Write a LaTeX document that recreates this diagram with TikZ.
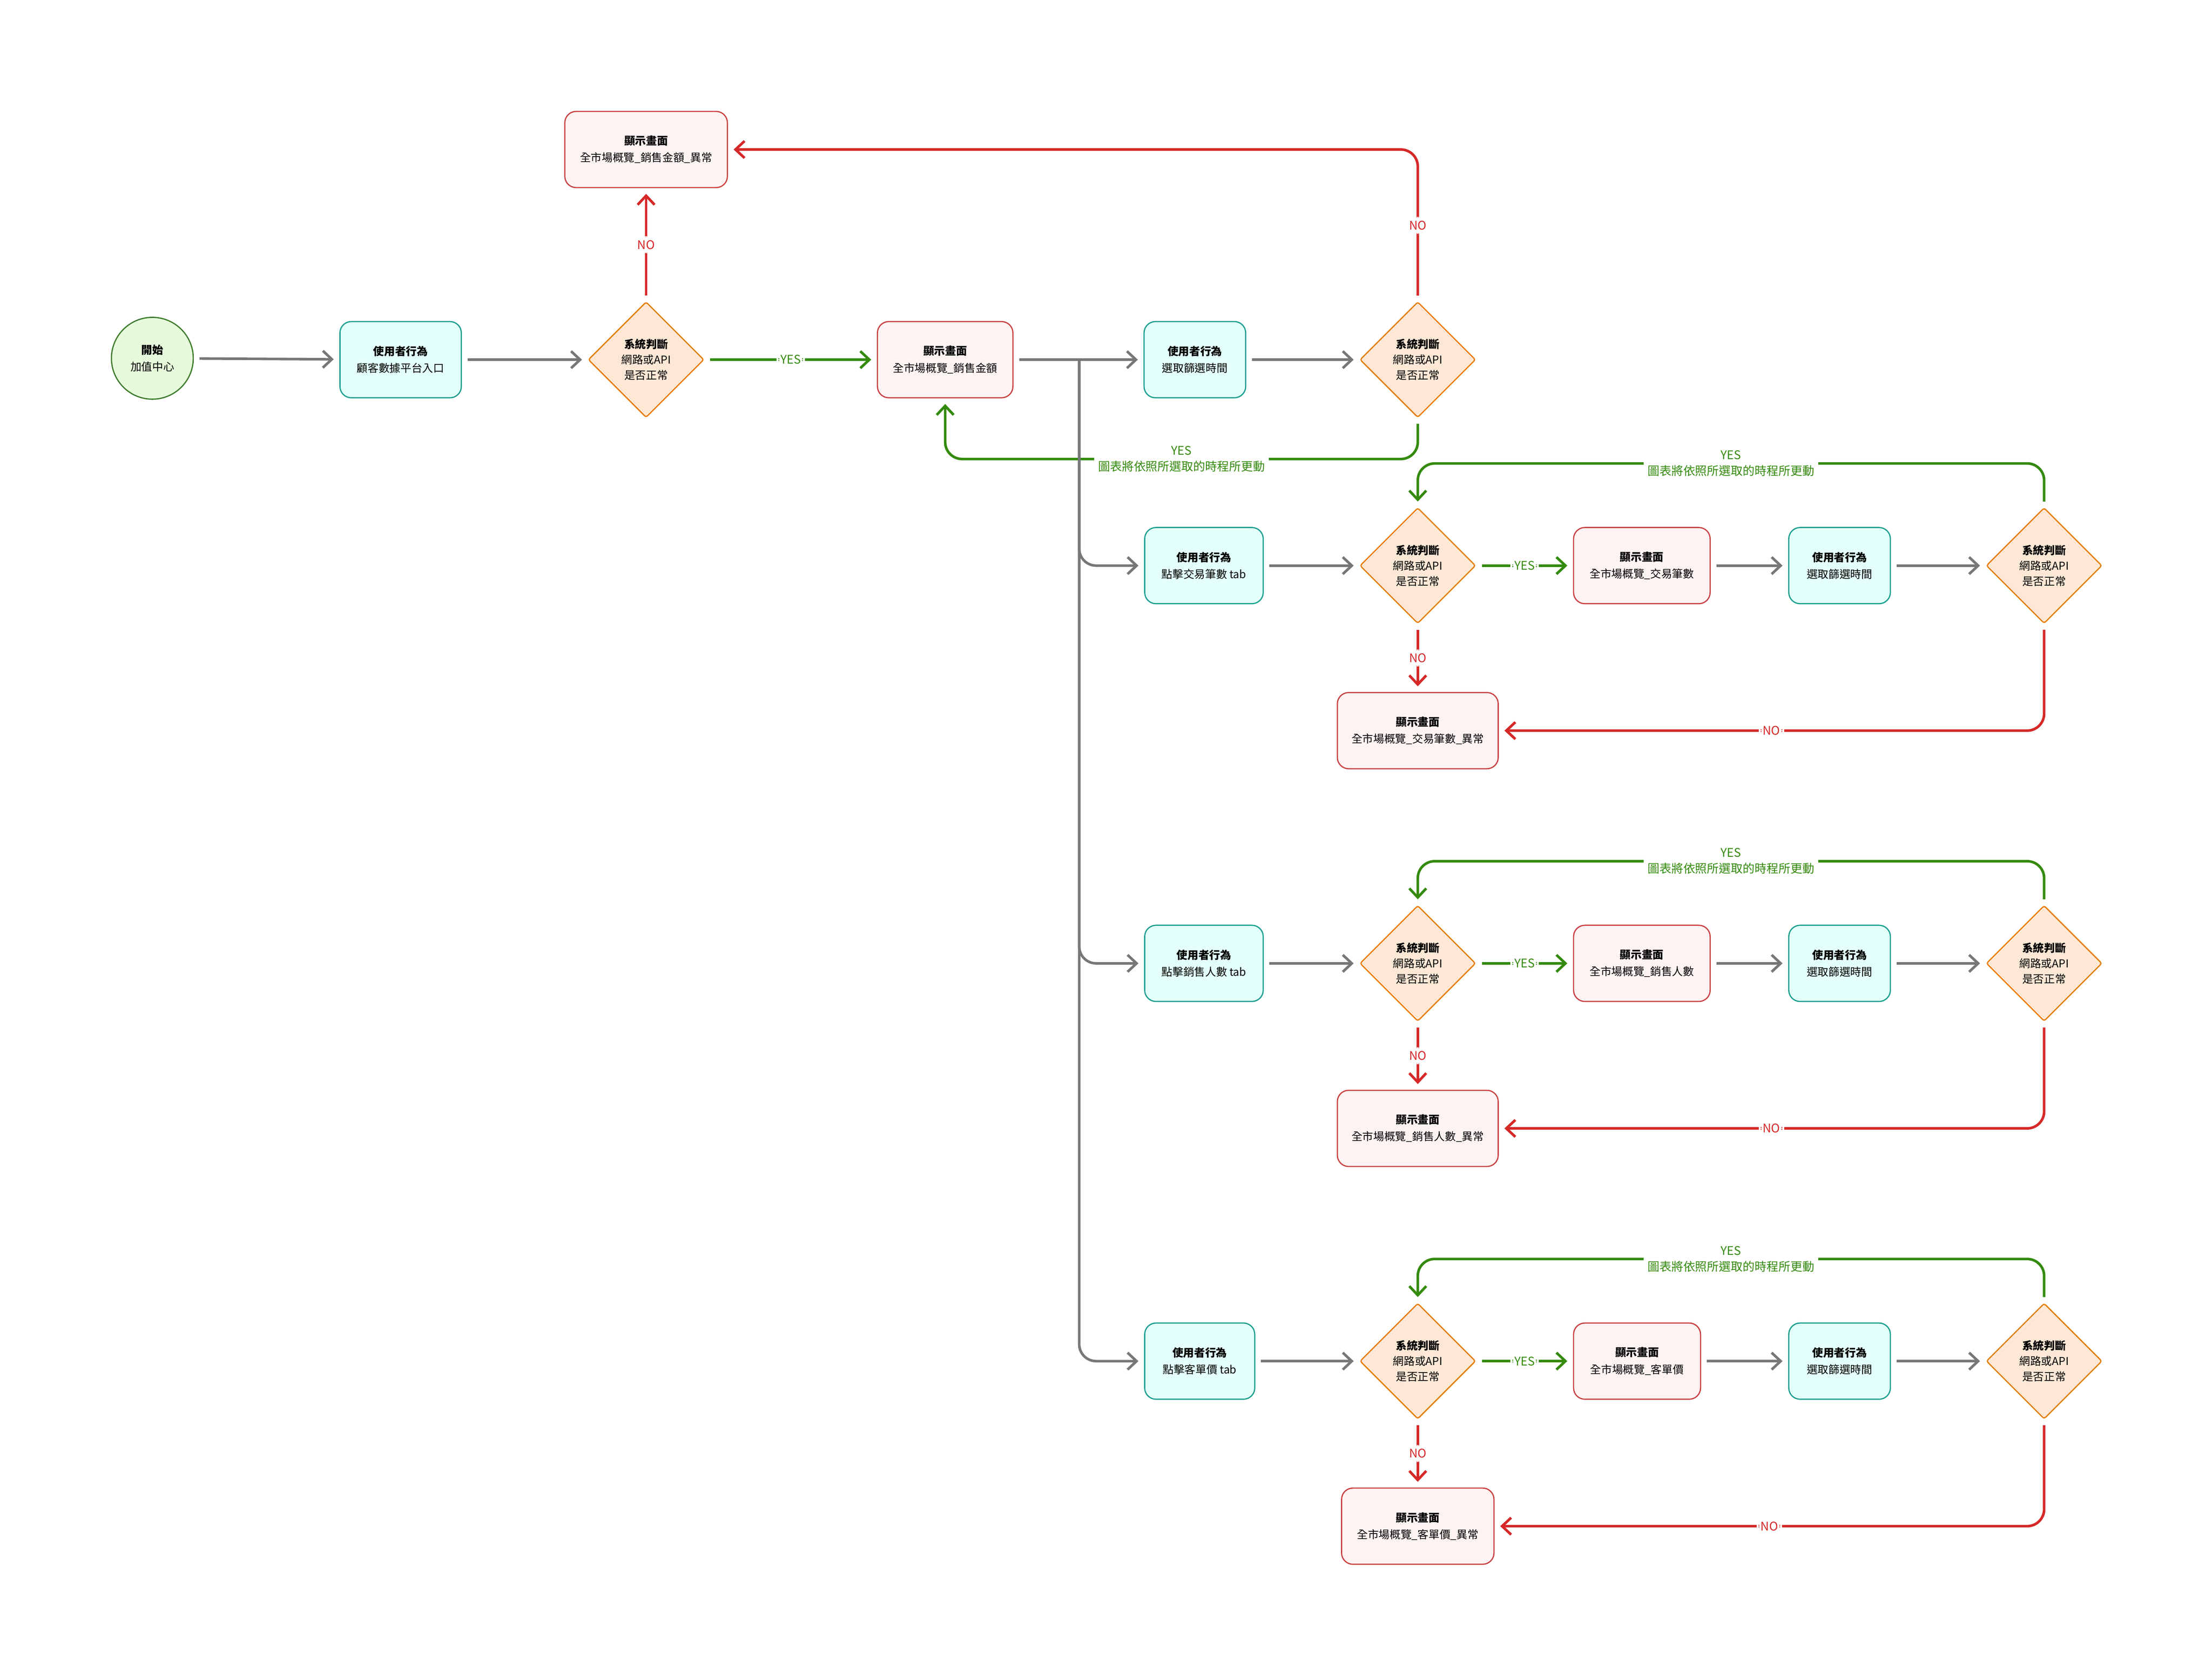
\documentclass[tikz,border=0pt]{standalone}
\usepackage{fontspec}
\setmainfont{Noto Sans CJK TC}
\usetikzlibrary{shapes.geometric,arrows.meta}
\definecolor{grayline}{HTML}{777777}
\definecolor{yesgreen}{HTML}{348A0E}
\definecolor{nored}{HTML}{D62828}
\definecolor{userdraw}{HTML}{1A9E8F}
\definecolor{userfill}{HTML}{E3FFFA}
\definecolor{showdraw}{HTML}{C94040}
\definecolor{showfill}{HTML}{FDF3F2}
\definecolor{decdraw}{HTML}{E87A00}
\definecolor{decfill}{HTML}{FDE8D6}
\definecolor{startdraw}{HTML}{3B7A2A}
\definecolor{startfill}{HTML}{E6FADB}
\tikzset{
  box/.style={rounded corners=0.2cm,line width=0.6pt,minimum height=1.35cm,
    align=center,font=\fontsize{5.5}{8.5}\selectfont},
  user/.style={box,draw=userdraw,fill=userfill},
  show/.style={box,draw=showdraw,fill=showfill},
  dec/.style={shape=diamond,draw=decdraw,fill=decfill,line width=0.6pt,
    minimum width=2.05cm,minimum height=2.05cm,inner sep=0pt,align=center,
    rounded corners=1pt,font=\fontsize{5.5}{7.8}\selectfont},
  flow/.style={-{Straight Barb[length=0.16cm,width=0.3cm]},line width=1.3pt,
    rounded corners=0.3cm,shorten >=0.1cm,shorten <=0.1cm},
  gray/.style={flow,grayline},
  yes/.style={flow,yesgreen},
  no/.style={flow,nored},
  lab/.style={fill=white,inner sep=2pt,align=center,font=\fontsize{6}{8}\selectfont}
}
\begin{document}
\begin{tikzpicture}[x=0.025cm,y=-0.025cm]
  \useasboundingbox (0,0) rectangle (1568,1188);

  \node[circle,draw=startdraw,fill=startfill,line width=0.6pt,minimum size=1.45cm,
        align=center,font=\fontsize{5.5}{8.5}\selectfont] (start) at (108,254)
        {\textbf{開始}\\加值中心};
  \node[user,minimum width=2.15cm] (u1) at (284,255) {\textbf{使用者行為}\\顧客數據平台入口};
  \node[dec] (d1) at (458,255) {\textbf{系統判斷}\\網路或API\\是否正常};
  \node[show,minimum width=2.88cm] (e1) at (458,106) {\textbf{顯示畫面}\\全市場概覽\_銷售金額\_異常};
  \node[show,minimum width=2.4cm] (s1) at (670,255) {\textbf{顯示畫面}\\全市場概覽\_銷售金額};
  \node[user,minimum width=1.8cm] (u2) at (847,255) {\textbf{使用者行為}\\選取篩選時間};
  \node[dec] (d2) at (1005,255) {\textbf{系統判斷}\\網路或API\\是否正常};
  \coordinate (bus) at (765,255);

  \draw[gray] (start) -- (u1);
  \draw[gray] (u1) -- (d1);
  \draw[yes] (d1) -- node[lab]{YES} (s1);
  \draw[no] (d1.north) -- node[lab]{NO} (e1);
  \draw[gray] (s1) -- (u2);
  \draw[gray] (u2) -- (d2);
  \draw[no] (d2.north) |- node[lab,pos=.25]{NO} (e1.east);
  \draw[yes] (d2.south) -- ++(0,29) -| node[lab,pos=.25]{YES\\圖表將依照所選取的時程所更動} (s1.south);

  % three tabs
  \foreach \r/\y/\utext/\uw/\stext/\sw/\ew in {
      a/401/點擊交易筆數 tab/2.1/交易筆數/2.42/2.85,
      b/683/點擊銷售人數 tab/2.1/銷售人數/2.42/2.85,
      c/965/點擊客單價 tab/1.95/客單價/2.25/2.7}{
    \node[user,minimum width=\uw cm,anchor=west] (u\r) at (811,\y) {\textbf{使用者行為}\\\utext};
    \node[dec] (d\r) at (1005,\y) {\textbf{系統判斷}\\網路或API\\是否正常};
    \node[show,minimum width=\sw cm,anchor=west] (s\r) at (1115,\y) {\textbf{顯示畫面}\\全市場概覽\_\stext};
    \node[user,minimum width=1.8cm] (t\r) at (1304,\y) {\textbf{使用者行為}\\選取篩選時間};
    \node[dec] (f\r) at (1449,\y) {\textbf{系統判斷}\\網路或API\\是否正常};
    \node[show,minimum width=\ew cm] (e\r) at (1005,\y+117) {\textbf{顯示畫面}\\全市場概覽\_\stext\_異常};
    \draw[gray,shorten <=0pt] (bus) |- (u\r.west);
    \draw[gray] (u\r) -- (d\r);
    \draw[yes] (d\r) -- node[lab]{YES} (s\r);
    \draw[gray] (s\r) -- (t\r);
    \draw[gray] (t\r) -- (f\r);
    \draw[no] (d\r.south) -- node[lab]{NO} (e\r);
    \draw[no] (f\r.south) |- node[lab,pos=.75]{NO} (e\r.east);
    \draw[yes] (f\r.north) -- ++(0,-31) -| node[lab,pos=.25]{YES\\圖表將依照所選取的時程所更動} (d\r.north);
  }
\end{tikzpicture}
\end{document}
